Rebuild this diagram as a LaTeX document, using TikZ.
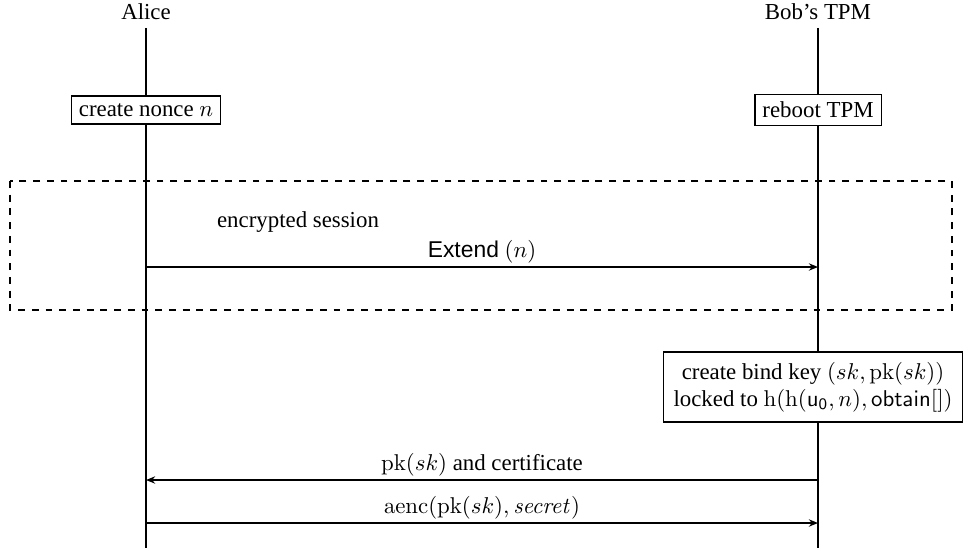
\documentclass[tikz,border=0pt]{standalone}
\usepackage[no-math]{fontspec}
\setmainfont{Liberation Serif}
\newfontfamily\extfont{Liberation Sans}
\usetikzlibrary{positioning, arrows.meta}
\usepackage{amsmath, amssymb}

\begin{document}
\begin{tikzpicture}[auto, x = 17.5pt, y = 17.5pt, semithick,
		>={Stealth[length = 4pt, width = 3.2pt, inset = 1.3pt]},
		actbox/.style = {draw, fill = white},
		msg/.style = {above, inner sep = 1.5pt}]
		\useasboundingbox (0, 0) rectangle (24.1, -13.8);
		%%%%%%%%%%%%%
		\node (alice) at (3.65, -0.29) {Alice};
		\node (bob) at (20.45, -0.29) {Bob's TPM};
		\coordinate (aend) at (3.65, -13.7);
		\coordinate (bend) at (20.45, -13.7);
		\draw (alice) to (aend); \draw (bob) to (bend);
		%%%%%%%%%%%%%
		\node[actbox] (nonce) at (3.65, -2.75) {create nonce $n$};
		\node[actbox] (reboot) at (20.45, -2.75) {reboot TPM};
		%%%%%%%%%%%%%
		\draw [dashed] (0.25, -4.525) rectangle (23.8, -7.75);
		\node (sess) at (7.45, -5.55) {encrypted session};
		\coordinate (a1) at (3.65, -6.675); \coordinate (b1) at (20.45, -6.675);
		\draw [->] (a1) to node[msg] {{\extfont Extend} $(n)$} (b1);
		%%%%%%%%%%%%%
		\node[actbox, align = center, minimum width = 131pt, minimum height = 30.5pt] (bind) at (20.325, -9.675)
			{create bind key $(sk, \mathrm{pk}(sk))$\\ locked to $\mathrm{h}(\mathrm{h}(\mathsf{u_0}, n), \mathsf{obtain}[])$};
		%%%%%%%%%%%%%
		\coordinate (a2) at (3.65, -12.0); \coordinate (b2) at (20.45, -12.0);
		\coordinate (a3) at (3.65, -13.075); \coordinate (b3) at (20.45, -13.075);
		\draw [->] (b2) to node[msg, swap] {$\mathrm{pk}(sk)$ and certificate} (a2);
		\draw [->] (a3) to node[msg] {$\mathrm{aenc}(\mathrm{pk}(sk), \mathit{secret})$} (b3);
\end{tikzpicture}
\end{document}
